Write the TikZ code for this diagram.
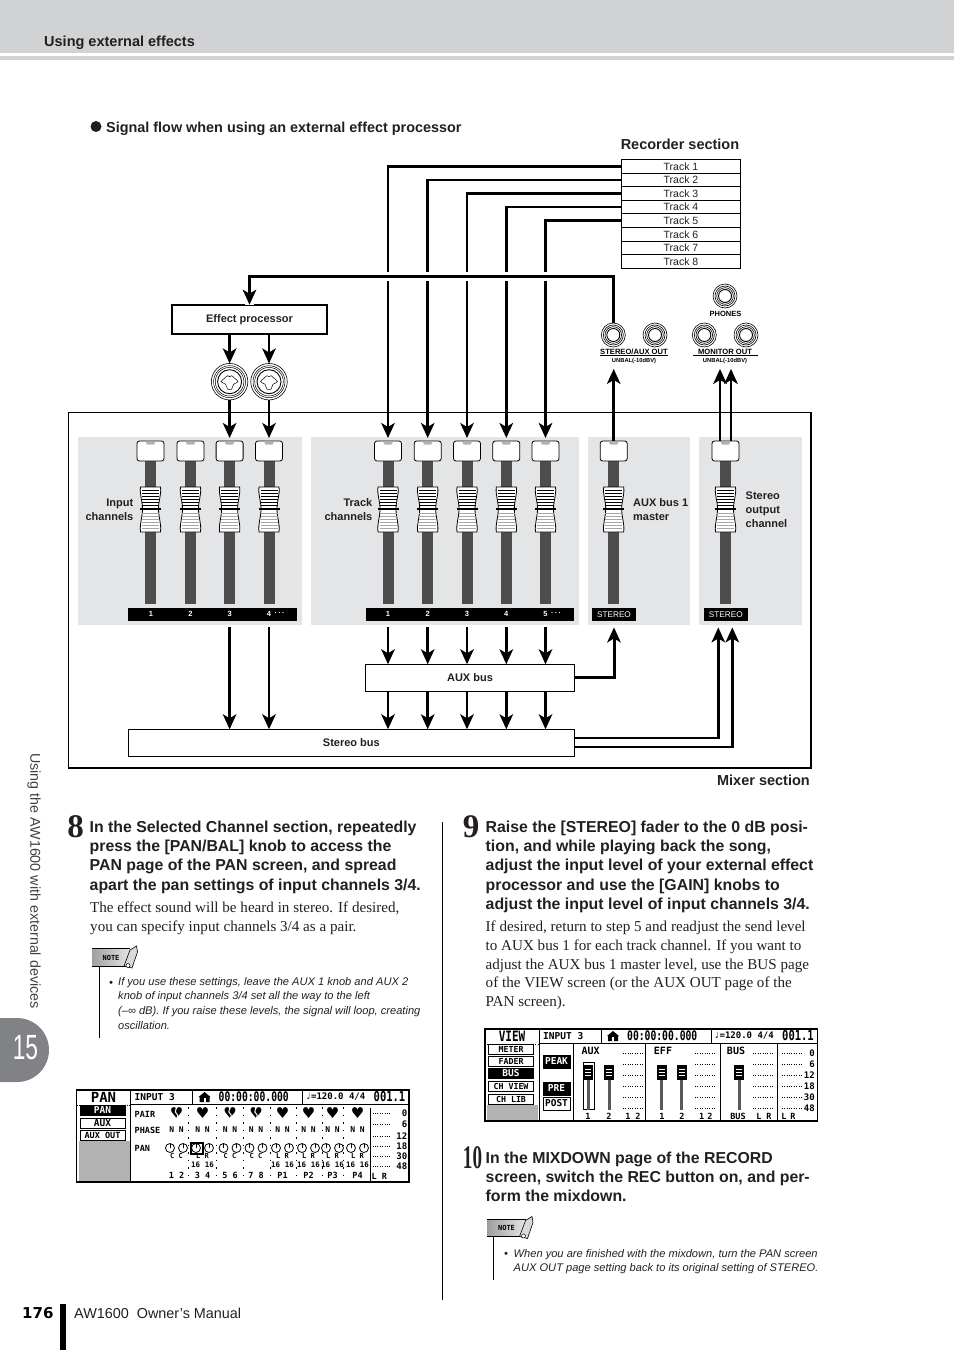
\documentclass[tikz,border=0pt]{standalone}
\usepackage{fontspec}
\setmainfont{Liberation Sans}
\newfontfamily\serifbody{Liberation Serif}
\newfontfamily\lcdfont{DejaVu Sans Mono}
\newfontfamily\lcdsym{DejaVu Sans}
\usetikzlibrary{arrows.meta, positioning, shapes.geometric}
\definecolor{headgray}{RGB}{209,210,212}
\definecolor{panelgray}{RGB}{228,229,231}
\definecolor{stripgray}{RGB}{77,77,77}
\definecolor{tabgray}{RGB}{128,130,133}
\definecolor{inkblack}{RGB}{35,31,32}
\tikzset{
  %% ---- boxes ----
  trackcell/.style = {rectangle, draw=black, line width=0.9pt, fill=white,
                   minimum width=119pt, minimum height=13.6pt, inner sep=0pt,
                   outer sep=0pt, font=\fontsize{10.5}{11}\selectfont, text=inkblack},
  busbox/.style  = {rectangle, draw=black, line width=0.9pt, fill=white,
                   inner sep=0pt, outer sep=0pt,
                   font=\bfseries\fontsize{11}{13}\selectfont, text=inkblack},
  capknob/.style = {rectangle, rounded corners=2.5pt, draw=black, line width=0.8pt,
                   fill=white, minimum width=27pt, minimum height=20pt,
                   inner sep=0pt, outer sep=0pt},
  numbar/.style  = {rectangle, fill=black, minimum height=13.4pt, inner sep=0pt, outer sep=0pt},
  barnum/.style  = {text=white, inner sep=0pt, minimum height=13.4pt, outer sep=0pt,
                   font=\bfseries\fontsize{7.5}{8}\selectfont},
  stereotag/.style = {rectangle, fill=black, text=white, minimum width=44pt,
                   minimum height=13.4pt, inner sep=0pt, outer sep=0pt,
                   font=\fontsize{8.2}{10}\selectfont},
  panellabel/.style = {inner sep=0pt, text=inkblack,
                   font=\bfseries\fontsize{11}{14}\selectfont},
  jackring/.style = {circle, draw=black, line width=0.6pt, fill=white,
                   minimum size=#1, inner sep=0pt, outer sep=0pt},
  jacktext/.style = {inner sep=0pt, text=black, font=\bfseries\fontsize{#1}{#1}\selectfont},
  headtext/.style = {inner sep=0pt, anchor=north west, align=left, text=inkblack,
                   font=\bfseries\fontsize{15.85}{19.3}\selectfont},
  bodytext/.style = {inner sep=0pt, anchor=north west, align=left, text=inkblack,
                   font=\serifbody\fontsize{15.1}{19}\selectfont},
  notetext/.style = {inner sep=0pt, anchor=north west, align=left, text=inkblack,
                   font=\itshape\fontsize{11.1}{14.6}\selectfont},
  stepnum/.style = {inner sep=0pt, text=inkblack,
                   font=\serifbody\bfseries\fontsize{33}{33}\selectfont},
  notetag/.style = {rectangle, left color=gray!75, right color=gray!20, inner sep=0pt,
                   minimum width=38pt, minimum height=17pt,
                   font=\lcdfont\bfseries\fontsize{7}{8}\selectfont},
  %% ---- lcd screens ----
  lcd/.style     = {inner sep=0pt, text=black, font=\lcdfont\bfseries\fontsize{#1}{#1}\selectfont},
  lcd/.default   = 8,
  lcdtab/.style  = {rectangle, draw=black, line width=0.9pt, fill=white, lcd=9.5,
                   minimum width=45pt, minimum height=10pt},
  lcdon/.style   = {lcdtab, fill=black, text=white},
  lcdbtn/.style  = {minimum width=27pt, minimum height=13pt, font=\lcdfont\bfseries\fontsize{9.5}{9.5}\selectfont},
  lcddots/.style = {line width=0.8pt, dash pattern=on 1pt off 1.4pt},
  %% ---- arrows ----
  arr/.style     = {-{Stealth[length=15pt,width=13.5pt,inset=4pt]}, line width=2.6pt, color=black},
  arrback/.style = {arr, shorten >=3pt},
  link/.style    = {line width=2.8pt, color=black},
}
% one fader: strip, cap on top, knob in the middle
\newcommand{\faderstrip}[2]{%
  \begin{scope}[shift={(#2,0)}]
    \fill[stripgray] (-5.5,461) rectangle (5.5,603.5);
    \node[capknob] (#1) at (0,451) {};
    \fill[gray!60] (-5,441.5) -- (5,441.5) -- (3.5,444.5) -- (-3.5,444.5) -- cycle;
    \draw[fill=white, line width=0.8pt] (-10,487) -- (10,487)
      .. controls (11,495) and (8,500) .. (8,509)
      .. controls (8,518) and (11,523) .. (10,532) -- (-10,532)
      .. controls (-11,523) and (-8,518) .. (-8,509)
      .. controls (-8,500) and (-11,495) .. cycle;
    \foreach \ly in {490,493,496,499,502,505} \draw[line width=0.5pt] (-8.5,\ly) -- (8.5,\ly);
    \foreach \ly in {513,516,519,522,525,528} \draw[gray!70, line width=1pt] (-8.5,\ly) -- (8.5,\ly);
    \draw[line width=1.2pt] (-10.5,509) -- (10.5,509);
  \end{scope}}
% quarter inch jack
\newcommand{\monojack}[3]{%
  \node[jackring=24pt] (#1) at (#2,#3) {};
  \draw[line width=0.6pt] (#1) circle (10pt);
  \draw[line width=0.6pt] (#1) circle (8.3pt);
  \draw[line width=0.9pt] (#1) circle (6.5pt);}
% combo jack of the input channels
\newcommand{\combojack}[3]{%
  \node[jackring=36.5pt] (#1) at (#2,#3) {};
  \draw[line width=0.5pt] (#1) circle (16pt);
  \draw[line width=0.5pt] (#1) circle (14.3pt);
  \draw[line width=0.9pt] (#1) circle (12pt);
  \draw[line width=0.5pt, shift={(#2,#3)}] plot[smooth cycle, tension=0.5] coordinates
    {(-8.5,0) (-5,-3.5) (-2,-6) (0,-5) (2,-6) (5,-3.5) (8.5,0) (4,2.5) (3,5) (2,7.5) (-2,7.5) (-3,5) (-4,2.5)};}
% note tag with its pencil and rule
\newcommand{\noteicon}[3]{%
  \node[notetag] (#1) at (#2,#3) {NOTE};
  \draw[line width=0.7pt] (#1.north west) -- (#1.north east);
  \draw[line width=0.9pt] (#1.south west) -- (#1.south east);
  \begin{scope}[shift={(#2,#3)}]
    \draw[fill=gray!30, line width=0.6pt] (13,8.5) -- (21,10.5) -- (26.5,-5.5)
      -- (25.5,-11.5) -- (19,-7.5) -- cycle;
    \draw[fill=white, line width=0.5pt] (17,8) circle (2pt);
  \end{scope}}
% top bar shared by both screens
\newcommand{\lcdtop}{%
  \draw[line width=1pt] (54,0) -- (54,92);
  \draw[line width=1pt] (54,14) -- (332.5,14);
  \draw[line width=1pt] (116,0) -- (116,14) (226,0) -- (226,14);
  \node[lcd=9.5, anchor=west] (lcdinput) at (58,7) {INPUT 3};
  \fill (122,7) -- (128,2) -- (134,7) -- (133,7) -- (133,12) -- (123,12) -- (123,7) -- cycle;
  \fill[white] (127,8) rectangle (129,12);
  \node[lcd=9.7, anchor=west] (lcdtime) at (142,7) {\scalebox{1}[1.35]{00:00:00.000}};
  \node[lcd=9, anchor=west] (lcdtempo) at (229,7) {♩=120.0 4/4};
  \node[lcd=10.5, anchor=west] (lcdbar) at (297,7) {\scalebox{1}[1.3]{001.1}};}
\begin{document}
\begin{tikzpicture}[x=1pt, y=-1pt]
\useasboundingbox (0,0) rectangle (954,1351);

% Page header
\fill[headgray] (0,0) rectangle (954,52.7);
\fill[headgray] (0,56) rectangle (954,60);
\node[inner sep=0pt, anchor=west, text=inkblack, font=\bfseries\fontsize{14.5}{16}\selectfont]
  (pagehead) at (44,43) {Using external effects};

% Figure title
\node[circle, fill=inkblack, minimum size=11pt, inner sep=0pt] (bullet) at (96,126.5) {};
\node[inner sep=0pt, anchor=west, text=inkblack, font=\bfseries\fontsize{14.4}{16}\selectfont]
  (figtitle) at (106,129) {Signal flow when using an external effect processor};
\node[inner sep=0pt, text=inkblack, font=\bfseries\fontsize{14.5}{16}\selectfont]
  (recsec) at (680,144) {Recorder section};

% Recorder tracks
\node[trackcell] (track1) at (681,166.3) {Track 1};
\foreach \i [remember=\i as \prev (initially 1)] in {2,...,8}
  \node[trackcell, below=0pt of track\prev] (track\i) {Track \i};

% Mixer frame and its panels
\node[rectangle, draw=black, line width=1.3pt, minimum width=742.5pt, minimum height=355.5pt,
      inner sep=0pt, outer sep=0pt, anchor=north west] (mixer) at (68.5,412.5) {};
\fill[panelgray] (77.7,436.7) rectangle (302,625);
\fill[panelgray] (310.7,436.7) rectangle (579,625);
\fill[panelgray] (588,436.7) rectangle (690,625);
\fill[panelgray] (699,436.7) rectangle (802,625);
\node[inner sep=0pt, text=inkblack, font=\bfseries\fontsize{14.5}{16}\selectfont,
      anchor=east] (mixsec) at (810,780) {Mixer section};

% Faders
\foreach \x [count=\k] in {150.5,190.5,229.6,269} {\faderstrip{icap\k}{\x}}
\foreach \x [count=\k] in {388,427.7,467,506.3,545.5} {\faderstrip{tcap\k}{\x}}
\faderstrip{acap}{613.7}
\faderstrip{scap}{725.5}

% Number bars
\node[numbar, minimum width=169pt, anchor=west] (ibar) at (128.3,614.2) {};
\node[numbar, minimum width=208.6pt, anchor=west] (tbar) at (365.7,614.2) {};
\foreach \x [count=\k] in {151,190.5,229.6,269} \node[barnum] (inum\k) at (\x,614.2) {\k};
\foreach \x [count=\k] in {388,427.7,467,506.3,545.5} \node[barnum] (tnum\k) at (\x,614.2) {\k};
\node[barnum, right=3.5pt of inum4] (idots) {·\,·\,·};
\node[barnum, right=3.5pt of tnum5] (tdots) {·\,·\,·};
\node[stereotag] (anum) at (614,614.2) {STEREO};
\node[stereotag] (snum) at (725.8,614.2) {STEREO};

% Channel labels
\node[panellabel, align=right, anchor=east] (inlabel) at (133.5,510) {Input\\channels};
\node[panellabel, align=right, anchor=east] (trlabel) at (372.5,510) {Track\\channels};
\node[panellabel, align=left, anchor=west] (auxlabel) at (633,510) {AUX bus 1\\master};
\node[panellabel, align=left, anchor=west] (stlabel) at (745.5,510) {Stereo\\output\\channel};

% Buses
\node[busbox, minimum width=209.4pt, minimum height=27pt, anchor=north west] (auxbus) at (365.3,664.3) {\raisebox{-1pt}{AUX bus}};
\node[busbox, minimum width=446.7pt, minimum height=26.7pt, anchor=north west] (stereobus) at (128,729.3) {Stereo bus};

% Effect processor and the jacks around it
\node[rectangle, draw=black, line width=1.8pt, fill=white, minimum width=155.6pt, minimum height=29.3pt,
      inner sep=0pt, outer sep=0pt, text=inkblack, font=\bfseries\fontsize{11}{13}\selectfont,
      anchor=north west] (effect) at (171.7,304.7) {Effect processor};
\combojack{cjack3}{229.6}{381.7}
\combojack{cjack4}{269}{381.7}
\monojack{aoutl}{613.3}{335}
\monojack{aoutr}{655}{335}
\monojack{monl}{704.3}{335}
\monojack{monr}{746}{335}
\monojack{phones}{725}{296}
\node[jacktext=7.5] (phonestxt) at (725.5,314) {PHONES};
\node[jacktext=7.6] (aouttxt) at (634,352) {STEREO/AUX OUT};
\node[jacktext=5.8] (aoutunbal) at (634,361) {UNBAL(-10dBV)};
\node[jacktext=7.6] (montxt) at (725,352) {MONITOR OUT};
\node[jacktext=5.8] (monunbal) at (725,361) {UNBAL(-10dBV)};
\draw[line width=0.8pt] (aouttxt.south west) ++(0,0.8) -- ++(68,0);
\draw[line width=0.8pt] (montxt.south west) ++(-5,0.8) -- ++(65,0);

% Arrows, recorder to track channels
\foreach \k in {1,...,5}
  \draw[arrback] (track\k.west) -| (tcap\k.north);

% Arrows, AUX out to effect processor, over the track lines
\draw[link, preaction={draw=white, line width=9pt, -}, -{Stealth[length=15pt,width=13.5pt,inset=4pt]}]
  (aoutl.north) -- ++(0,-46.5) -| (effect.north);
\draw[arr] (cjack3 |- effect.south) -- (cjack3.north);
\draw[arr] (cjack4 |- effect.south) -- (cjack4.north);
\draw[arrback] (cjack3.south) -- (icap3.north);
\draw[arrback] (cjack4.south) -- (icap4.north);

% Arrows, channels to outputs
\draw[arr] (acap.north) -- ([yshift=-5pt]acap.north |- aoutunbal.south);
\draw[arr] ([xshift=-5.5pt]scap.north) -- ([xshift=-5.5pt,yshift=-5pt]scap.north |- monunbal.south);
\draw[arr] ([xshift=5.5pt]scap.north) -- ([xshift=5.5pt,yshift=-5pt]scap.north |- monunbal.south);

% Arrows, faders to buses
\foreach \k in {1,...,5} {
  \draw[arr] ([yshift=-6.5pt]tnum\k.south) -- (tnum\k |- auxbus.north);
  \draw[arr] (tnum\k |- auxbus.south) -- (tnum\k |- stereobus.north);
}
\draw[arr] ([yshift=-6.5pt]inum3.south) -- (inum3 |- stereobus.north);
\draw[arr] ([yshift=-6.5pt]inum4.south) -- (inum4 |- stereobus.north);

% Arrows, buses to masters
\draw[arr, line width=3pt] (auxbus.east) -| ([yshift=-6.5pt]anum.south);
\draw[arr] ([yshift=4.5pt]stereobus.east) -| ([xshift=-7.5pt,yshift=-6.5pt]snum.south);
\draw[arr] ([yshift=-4.5pt]stereobus.east) -| ([xshift=6.5pt,yshift=-6.5pt]snum.south);

% Side tab
\node[inner sep=0pt, rotate=-90, anchor=west, text=inkblack!85, font=\fontsize{14.3}{15}\selectfont]
  (sidetxt) at (34,753) {Using the AW1600 with external devices};
\fill[tabgray] (0,1018) -- (17,1018) arc[start angle=90, end angle=-90, radius=32pt] -- (0,1082) -- cycle;
\node[inner sep=0pt, text=white, font=\fontsize{35}{35}\selectfont] (tabnum) at (25.5,1047.5) {\scalebox{0.65}[1]{15}};

% Left column
\node[stepnum] (step8) at (75.5,827) {8};
\node[headtext] (head8) at (89.5,820.5) {In the Selected Channel section, repeatedly\\press the [PAN/BAL] knob to access the\\PAN page of the PAN screen, and spread\\apart the pan settings of input channels 3/4.};
\node[bodytext] (body8) at (90,902) {The effect sound will be heard in stereo. If desired,\\you can specify input channels 3/4 as a pair.};
\noteicon{note8}{111}{957.5}
\draw[line width=0.8pt] (note8.south west) ++(7.5,0) -- ++(0,71.5);
\node[notetext] (notetxt8a) at (109,981) {•};
\node[notetext] (notetxt8) at (118,977) {If you use these settings, leave the AUX 1 knob and AUX 2\\knob of input channels 3/4 set all the way to the left\\(–∞ dB). If you raise these levels, the signal will loop, creating\\oscillation.};

% Column rule
\draw[line width=0.8pt] (442.7,822) -- (442.7,1300);

% Right column
\node[stepnum] (step9) at (471,827) {9};
\node[headtext] (head9) at (485.5,820.5) {Raise the [STEREO] fader to the 0 dB posi-\\tion, and while playing back the song,\\adjust the input level of your external effect\\processor and use the [GAIN] knobs to\\adjust the input level of input channels 3/4.};
\node[bodytext, font=\serifbody\fontsize{15.1}{18.7}\selectfont] (body9) at (485.5,921) {If desired, return to step 5 and readjust the send level\\to AUX bus 1 for each track channel. If you want to\\adjust the AUX bus 1 master level, use the BUS page\\of the VIEW screen (or the AUX OUT page of the\\PAN screen).};
\node[stepnum] (step10) at (472.5,1158) {\scalebox{0.58}[1]{10}};
\node[headtext] (head10) at (485.5,1151.5) {In the MIXDOWN page of the RECORD\\screen, switch the REC button on, and per-\\form the mixdown.};
\noteicon{note10}{506.5}{1228}
\draw[line width=0.8pt] (note10.south west) ++(6.5,0) -- ++(0,43);
\node[notetext] (notetxt10a) at (504,1252) {•};
\node[notetext] (notetxt10) at (513.5,1249) {When you are finished with the mixdown, turn the PAN screen\\AUX OUT page setting back to its original setting of STEREO.};

% Footer
\node[inner sep=0pt, anchor=west, text=black, font=\lcdsym\bfseries\fontsize{15}{18}\selectfont]
  (pagenum) at (22,1313) {176};
\fill[black] (60,1304) rectangle (66,1350);
\node[inner sep=0pt, anchor=west, text=inkblack, font=\fontsize{14.4}{16}\selectfont]
  (manual) at (74,1313) {AW1600\ \ Owner’s Manual};

% PAN screen
\begin{scope}[shift={(76.5,1090)}]
  \draw[line width=1.5pt, fill=white] (0,0) rectangle (332.5,92);
  \lcdtop
  \node[lcd=14] (pantitle) at (27,7) {PAN};
  \draw[lcddots] (0,15) -- (54,15);
  \fill[gray!60] (2,51) rectangle (53,90.5);
  \node[lcdon] (pantab) at (26,20) {PAN};
  \node[lcdtab] (auxtab) at (26,33) {AUX};
  \node[lcdtab, font=\lcdfont\bfseries\fontsize{8.5}{8.5}\selectfont] (outtab) at (26,45.5) {AUX OUT};
  \node[lcd=8.5, anchor=west] (pairtxt) at (58,24) {PAIR};
  \node[lcd=8.5, anchor=west] (phasetxt) at (58,40) {PHASE};
  \node[lcd=8.5, anchor=west] (pantxt) at (58,58) {PAN};
  \foreach \sx in {111.5,139.5,166.5,193.5,219.5,245.5,266.5}
    \draw[line width=1pt, dash pattern=on 1.5pt off 6pt] (\sx,17) -- (\sx,90);
  \foreach \cx/\lr/\sixt/\lab [count=\k] in
    {100/C C/{}/1 2, 126/L R/16 16/3 4, 153.5/C C/{}/5 6, 179.5/C C/{}/7 8,
     206/L R/16 16/P1, 232/L R/16 16/P2, 256/L R/16 16/P3, 281/L R/16 16/P4} {
    \node[inner sep=0pt, font=\lcdsym\fontsize{15}{15}\selectfont] (heart\k) at (\cx,23.5) {♥};
    \node[lcd=8] (phase\k) at (\cx,40) {N N};
    \draw[line width=0.8pt] (\cx-6.5,58) circle (4.5pt) (\cx+6.5,58) circle (4.5pt);
    \draw[line width=0.8pt] (\cx-6.5,53.5) -- (\cx-6.5,58) (\cx+6.5,53.5) -- (\cx+6.5,58);
    \node[lcd=7] (lrlab\k) at (\cx,66) {\lr};
    \node[lcd=7.5] (sixt\k) at (\cx,74.5) {\sixt};
    \node[lcd=8.5] (chlab\k) at (\cx,85) {\lab};
  }
  \foreach \b in {100,153.5,179.5}
    \draw[white, line width=1pt] (\b,17) -- (\b-1.2,22) -- (\b+1.2,25) -- (\b,31);
  \draw[line width=1.2pt] (114.5,53) rectangle (126.5,64);
  \draw[line width=1pt] (293.5,18) -- (293.5,92);
  \foreach \my/\mlab in {23.5/0, 34.5/6, 46/12, 56/18, 66/30, 76.5/48} {
    \draw[lcddots] (296,\my) -- (314,\my);
    \node[lcd=9, anchor=east] (pmeter\mlab) at (331,\my) {\mlab};
  }
  \node[lcd=8.5, anchor=west] (pmeterlr) at (295,86) {L R};
\end{scope}

% VIEW screen
\begin{scope}[shift={(485,1029)}]
  \draw[line width=1.5pt, fill=white] (0,0) rectangle (332.5,92);
  \lcdtop
  \node[lcd=11] (viewtitle) at (27,7) {\scalebox{1}[1.3]{VIEW}};
  \draw[lcddots] (0,15) -- (54,15);
  \fill[gray!60] (2,76) rectangle (53,90.5);
  \foreach \ty/\tlab in {20.3/METER, 32.3/FADER, 57.7/CH VIEW, 70.3/CH LIB}
    \node[lcdtab, font=\lcdfont\bfseries\fontsize{8.3}{8.3}\selectfont] (vtab\ty) at (26,\ty) {\tlab};
  \node[lcdon] (bustab) at (26,44.3) {BUS};
  \node[lcdon, lcdbtn] (peakbtn) at (71.5,32.5) {PEAK};
  \node[lcdon, lcdbtn] (prebtn) at (71.5,59.5) {PRE};
  \node[lcdtab, lcdbtn] (postbtn) at (71.5,74.5) {POST};
  \foreach \vx in {88.3,160.7,235,292}
    \draw[line width=1pt] (\vx,14) -- (\vx,92);
  \node[lcd=10] (auxhead) at (105.7,21.5) {AUX};
  \node[lcd=10] (effhead) at (178,21.5) {EFF};
  \node[lcd=10] (bushead) at (251,21.5) {BUS};
  \foreach \ry in {24.3,35,46,57,68,79.6} {
    \draw[lcddots] (137.7,\ry) -- (158,\ry);
    \draw[lcddots] (210,\ry) -- (230,\ry);
    \draw[lcddots] (268,\ry) -- (288,\ry);
    \draw[lcddots] (296.7,\ry) -- (316.7,\ry);
  }
  \draw[line width=0.8pt] (98,33.3) rectangle (109.7,80);
  \foreach \fx in {103.3,124,176.7,196.7,254} {
    \fill[gray!70!black] (\fx-1.5,51) rectangle (\fx+1.5,81);
    \fill[black] (\fx-5,36) rectangle (\fx+5,51);
    \foreach \ny in {40,43,46} \draw[white, line width=0.8pt] (\fx-3,\ny) -- (\fx+3,\ny);
  }
  \foreach \mv/\mlab in {24.3/0, 35/6, 46/12, 57/18, 68/30, 79.6/48}
    \node[lcd=9, anchor=east] (vmeter\mlab) at (330,\mv) {\mlab};
  \foreach \bx/\blab [count=\k] in {103/1, 124/2, 143/1, 153/2, 177/1, 197/2, 216.7/1, 225/2, 253/BUS, 274/L, 284/R, 299/L, 308/R}
    \node[lcd=8.5] (vbot\k) at (\bx,87) {\blab};
\end{scope}

\end{tikzpicture}
\end{document}
